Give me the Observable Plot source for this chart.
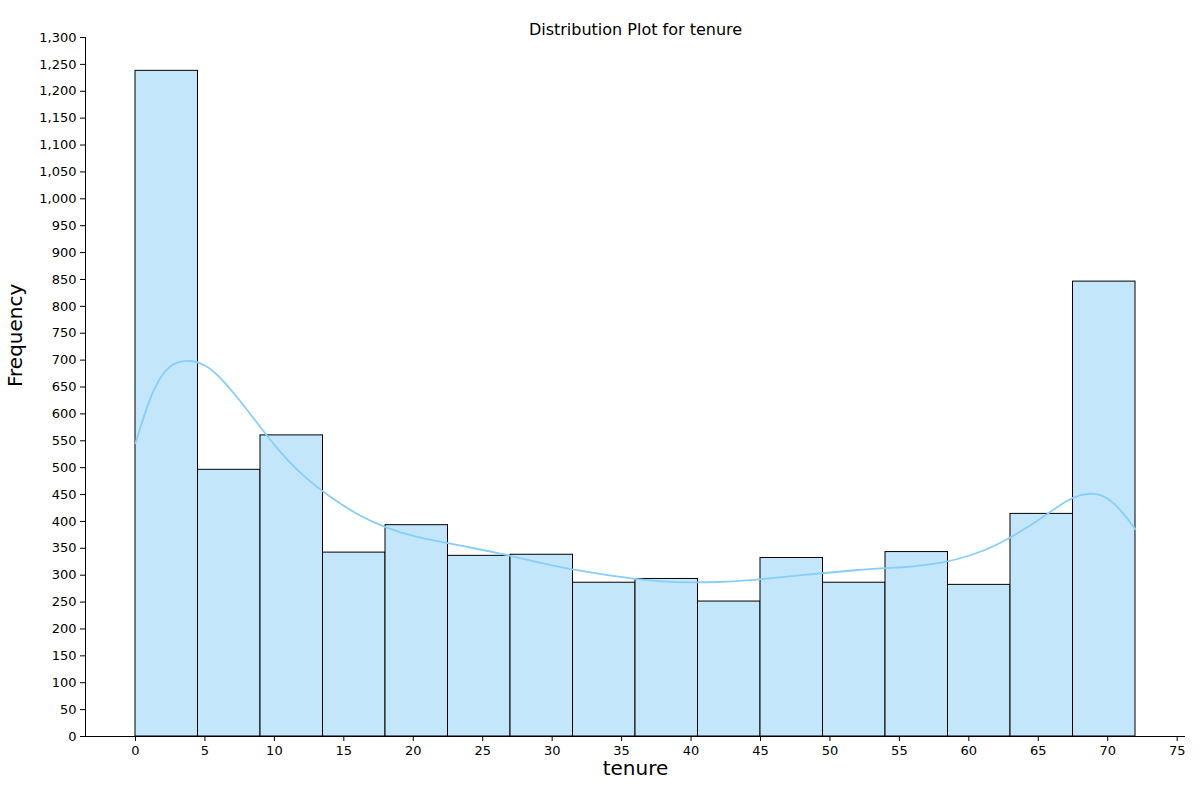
<!DOCTYPE html>
<html><head>
<script src="https://cdn.jsdelivr.net/npm/d3@7"></script>
<script src="https://cdn.jsdelivr.net/npm/@observablehq/plot@0.6"></script>
<style>body{margin:0;background:#fff;font-family:"DejaVu Sans",sans-serif}</style>
</head><body><div id="chart"></div>
<script>
const binWidth = 4.5
const counts = [1238, 496, 560, 342, 393, 336, 338, 286, 293, 251, 332, 286, 343, 282, 414, 846]
const kdeX = [0,1,2,3,4,5,6,8,10,12,14,16,18,20,22,24,26,28,30,32,34,36,38,40,42,44,46,48,50,52,54,56,58,60,62,64,66,67,68,69,70,71,72]
const kdeY = [545,630,680,698,700,692,672,610,540,485,445,412,388,372,362,352,342,330,318,308,300,293,288,286,287,290,295,300,305,310,313,316,322,335,355,385,420,438,450,453,445,420,385]

const bins = counts.map((c, i) => ({x1: i * binWidth, x2: (i + 1) * binWidth, count: c}))
const kde = kdeX.map((x, i) => ({x, y: kdeY[i]}))

const chart = Plot.plot({
  width: 1200, height: 800,
  marginTop: 37, marginLeft: 85, marginRight: 15, marginBottom: 64,
  style: {fontSize: "13px", fontFamily: "DejaVu Sans, sans-serif", color: "#000"},
  x: {domain: [-3.6, 75.6], ticks: d3.range(0, 71, 10)},
  y: {domain: [0, 1300], ticks: d3.range(0, 1201, 200)},
  marks: [
    Plot.rectY(bins, {x1: "x1", x2: "x2", y: "count", fill: "#c3e6fb", stroke: "#000", strokeWidth: 1}),
    Plot.line(kde, {x: "x", y: "y", curve: "basis", stroke: "#87cefa", strokeWidth: 1.8}),
    Plot.axisX({tickSize: 5, label: null}),
    Plot.axisY({tickSize: 5, label: null}),
    Plot.ruleX([-3.6]),
    Plot.ruleY([0]),
    Plot.text(["tenure"], {frameAnchor: "bottom", dy: 38, fontSize: 20}),
    Plot.text(["Frequency"], {frameAnchor: "left", dx: -70, rotate: -90, fontSize: 20}),
    Plot.text(["Distribution Plot for tenure"], {frameAnchor: "top", dy: -14, fontSize: 16})
  ]
})
document.getElementById("chart").append(chart)
</script></body></html>
